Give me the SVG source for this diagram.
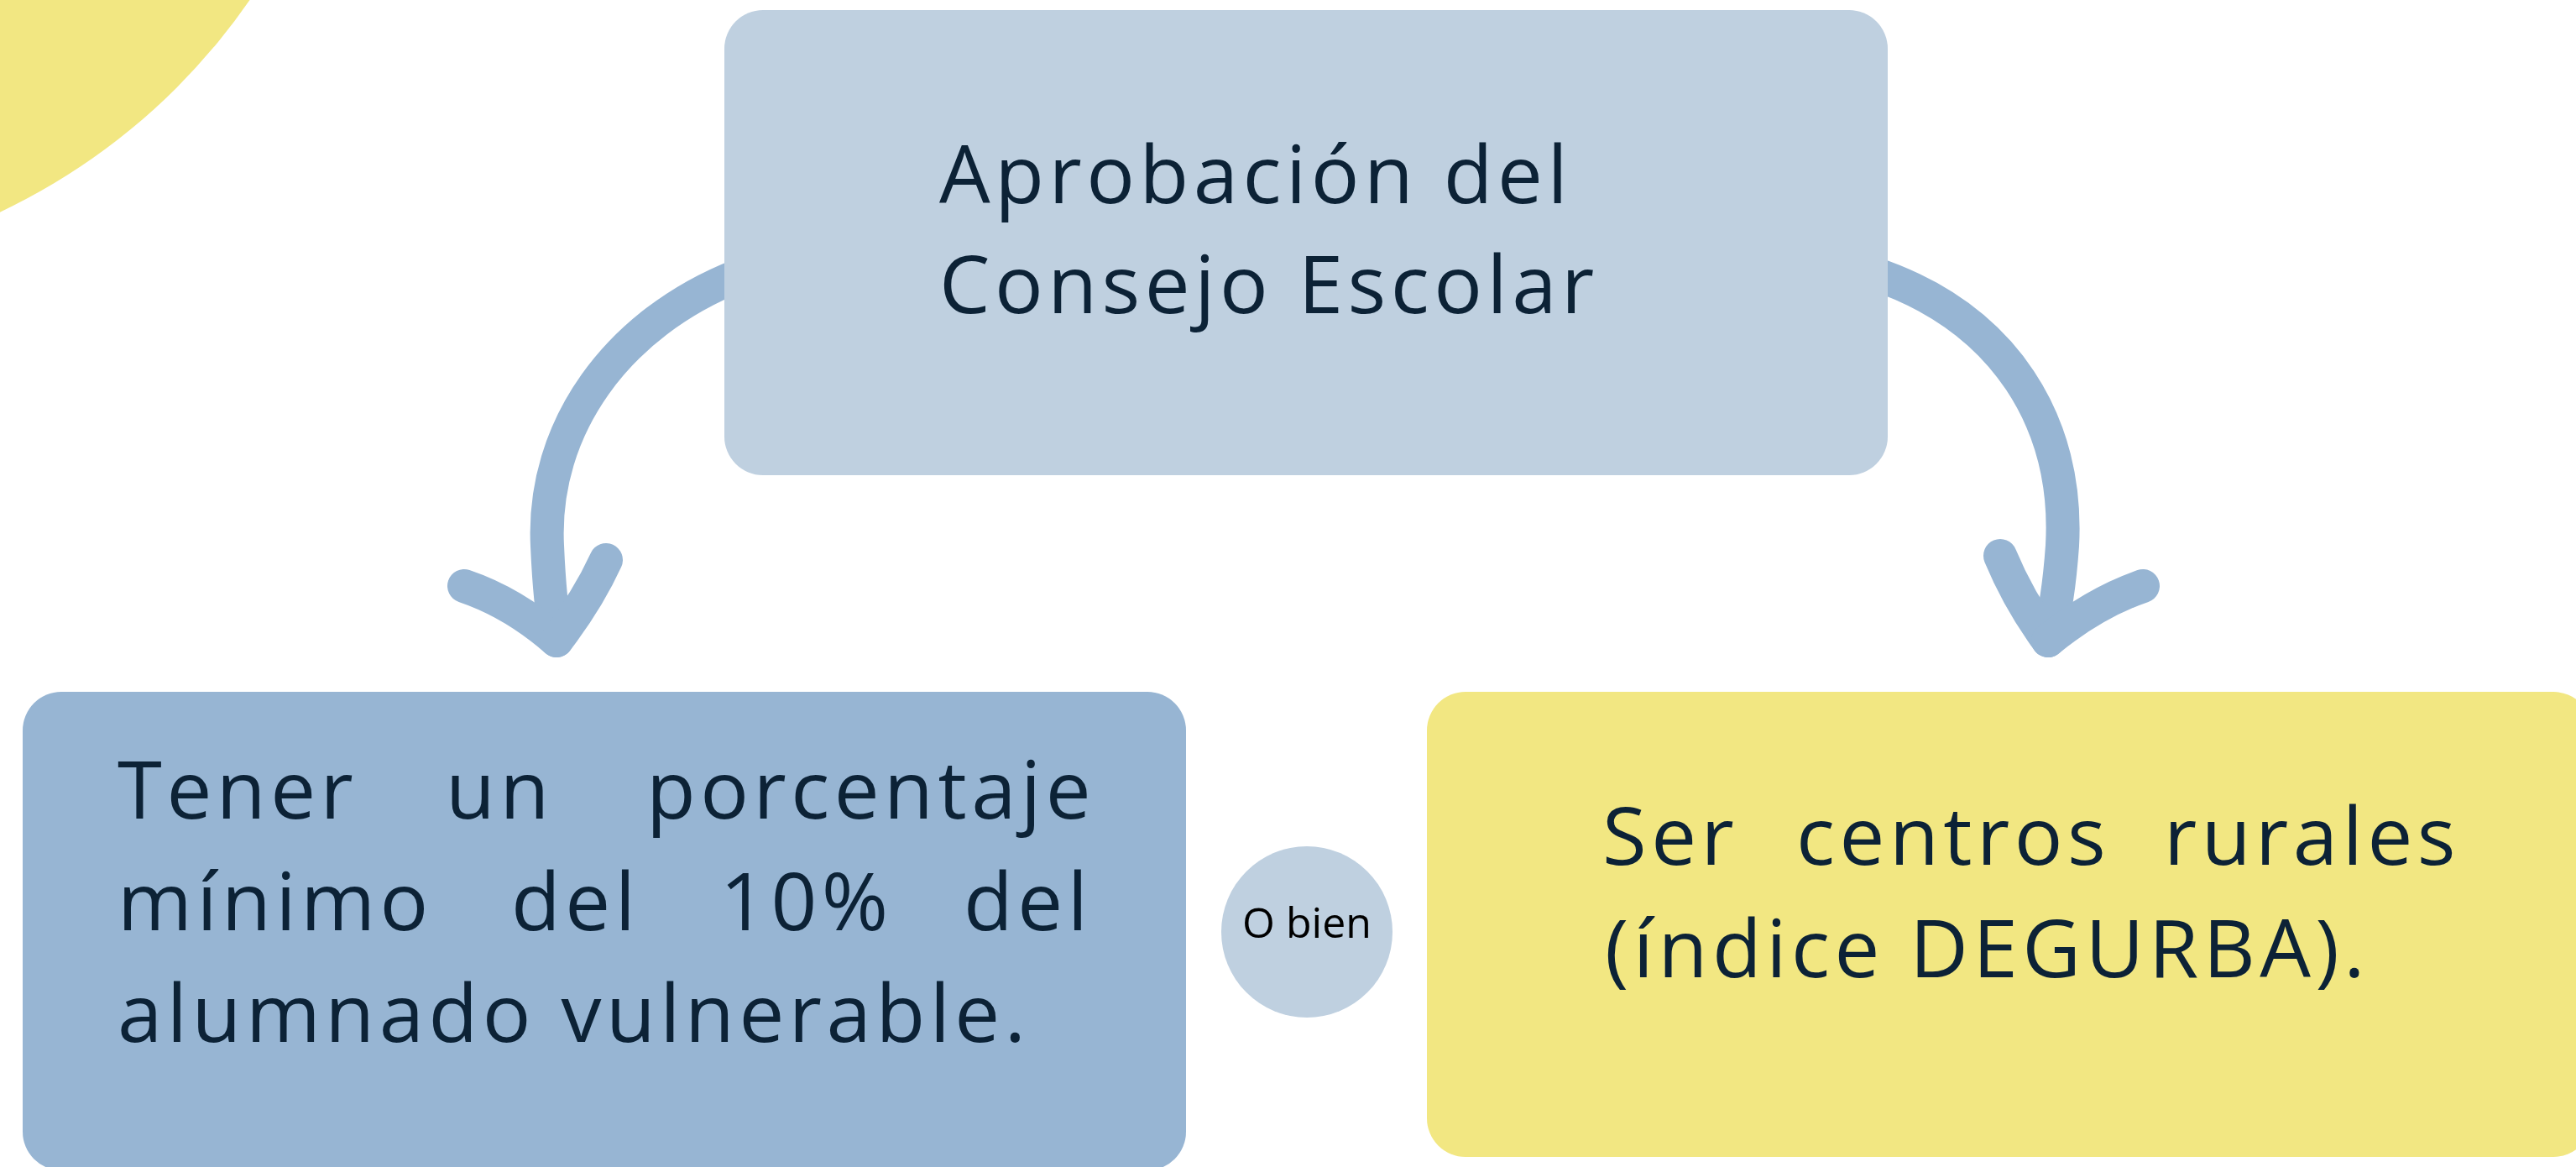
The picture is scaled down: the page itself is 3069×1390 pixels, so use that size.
<svg xmlns="http://www.w3.org/2000/svg" width="3069" height="1390" viewBox="0 0 3069 1390">
  <defs>
    <style>
      .big { font-family: "Open Sans", "Noto Sans", sans-serif; font-size: 96px; letter-spacing: 5.5px; fill: #0c2236; }
      .small { font-family: "Open Sans", "Noto Sans", sans-serif; font-size: 50px; fill: #000000; }
      .arrow { fill: none; stroke: #97b5d3; stroke-width: 40; stroke-linecap: round; stroke-linejoin: round; }
    </style>
  </defs>
  <rect width="3069" height="1390" fill="#ffffff"/>
  <circle cx="-322" cy="-428" r="753" fill="#f2e782"/>

  <g id="connectors">
    <path class="arrow" d="M 880 328 C 735 385 645 510 652 650 Q 655 720 663 760"/>
    <path class="arrow" d="M 553 698 Q 612 718 663 763"/>
    <path class="arrow" d="M 722 667 Q 700 715 663 763"/>
    <path class="arrow" d="M 2230 325 C 2390 378 2465 505 2457 650 Q 2452 720 2440 760"/>
    <path class="arrow" d="M 2383 662 Q 2405 715 2440 763"/>
    <path class="arrow" d="M 2553 698 Q 2495 718 2440 763"/>
  </g>

  <g id="node-consejo">
    <rect x="863" y="12" width="1386" height="554" rx="46" ry="46" fill="#bfd0e0"/>
    <text class="big" x="1119" y="242">Aprobación del</text>
    <text class="big" x="1119" y="373">Consejo Escolar</text>
  </g>

  <g id="node-vulnerable">
    <rect x="27" y="824" width="1386" height="570" rx="46" ry="46" fill="#97b5d3"/>
    <text class="big" y="975"><tspan x="140">Tener</tspan><tspan x="531">un</tspan><tspan x="770">porcentaje</tspan></text>
    <text class="big" y="1108"><tspan x="140">mínimo</tspan><tspan x="609">del</tspan><tspan x="858">10%</tspan><tspan x="1148">del</tspan></text>
    <text class="big" x="140" y="1241">alumnado vulnerable.</text>
  </g>

  <g id="node-obien">
    <circle cx="1557" cy="1110" r="102" fill="#bfd0e0"/>
    <text class="small" x="1557" y="1117" text-anchor="middle">O bien</text>
  </g>

  <g id="node-rurales">
    <rect x="1700" y="824" width="1388" height="554" rx="46" ry="46" fill="#f2e782"/>
    <text class="big" y="1030"><tspan x="1909">Ser</tspan><tspan x="2140">centros</tspan><tspan x="2578">rurales</tspan></text>
    <text class="big" x="1912" y="1164">(índice DEGURBA).</text>
  </g>
</svg>
